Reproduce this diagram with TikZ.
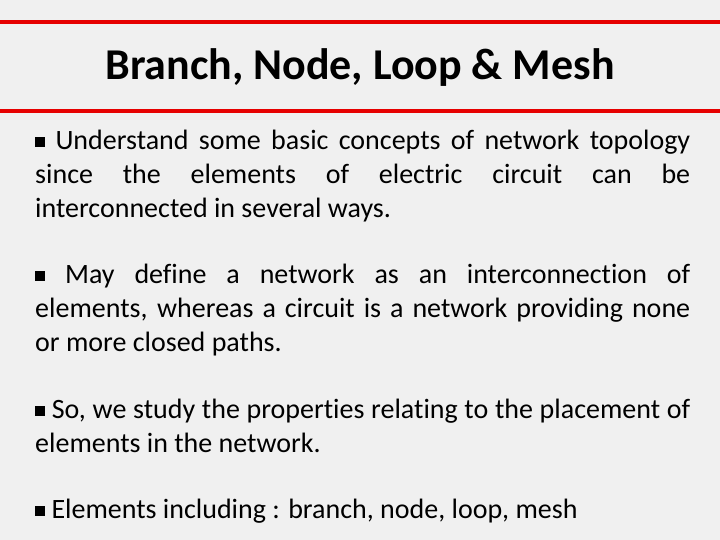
\documentclass[tikz,border=0pt]{standalone}
\usepackage{fontspec}
\setmainfont[Ligatures=NoCommon]{Carlito}
\begin{document}
\begin{tikzpicture}[x=1pt,y=1pt,
  redline/.style={draw={rgb,255:red,230;green,0;blue,0},line width=4pt},
  para/.style={anchor=base west,inner sep=0pt,text width=655pt,align=justify,font=\fontsize{28}{34}\selectfont}]
\fill[fill={rgb,255:red,240;green,240;blue,240}] (0,0) rectangle (720,540);
\useasboundingbox (0,0) rectangle (720,540);
\coordinate (l1a) at (0,518); \coordinate (l1b) at (720,518);
\coordinate (l2a) at (0,429); \coordinate (l2b) at (720,429);
\draw[redline] (l1a) -- (l1b);
\draw[redline] (l2a) -- (l2b);
\node[font=\fontsize{44}{48}\selectfont\bfseries] (title) at (360,472) {Branch, Node, Loop \& Mesh};
\newcommand{\bul}{\rule[3pt]{10pt}{10pt}\ }
\node[para] (p1) at (35,390) {\bul Understand some basic concepts of network topology\linebreak since the elements of electric circuit can be\linebreak interconnected in several ways.};
\node[para] (p2) at (35,256) {\bul May define a network as an interconnection of\linebreak elements, whereas a circuit is a network providing none\linebreak or more closed paths.};
\node[para] (p3) at (35,121) {\bul So, we study the properties relating to the placement of elements in the network.};
\node[para] (p4) at (35,21) {\bul Elements including : branch, node, loop, mesh};
\end{tikzpicture}
\end{document}
